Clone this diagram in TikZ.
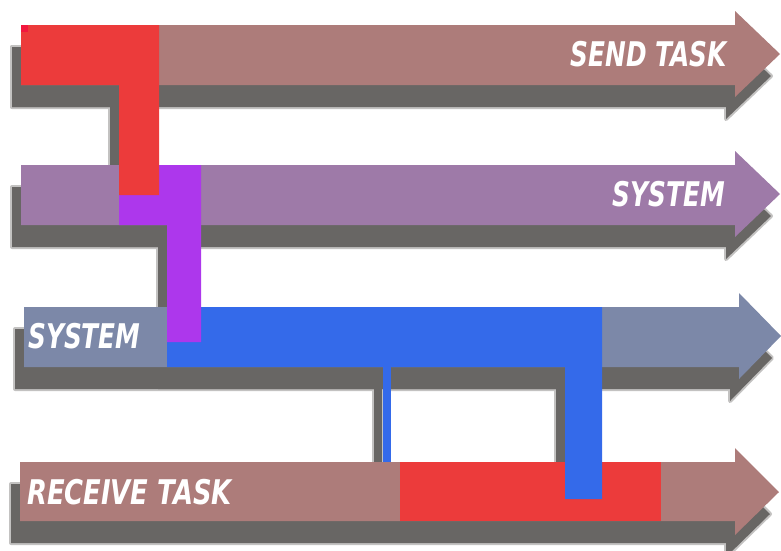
\documentclass[tikz,border=0pt]{standalone}
\usepackage{fontspec}
\newfontfamily\lblfont{DejaVu Sans Bold Oblique}[FakeStretch=0.73]
\newfontfamily\lblwidefont{DejaVu Sans Bold Oblique}[FakeStretch=0.76]
\definecolor{arrowbrown}{HTML}{AD7C7A}
\definecolor{arrowpurple}{HTML}{9E7AA8}
\definecolor{arrowslate}{HTML}{7C88A8}
\definecolor{barred}{HTML}{EC3B3B}
\definecolor{barviolet}{HTML}{AD37EC}
\definecolor{barblue}{HTML}{346AEA}
\definecolor{hotred}{HTML}{F2183E}
\definecolor{shadowgray}{HTML}{686664}
\def\ArrowA{(21,25) -- (735,25) -- (735,11) -- (780,54) -- (735,97) -- (735,85) -- (21,85) -- cycle}
\def\ArrowB{(21,165) -- (735,165) -- (735,151) -- (780,194) -- (735,237) -- (735,225) -- (21,225) -- cycle}
\def\ArrowC{(24,307) -- (739,307) -- (739,293) -- (781,336) -- (739,379) -- (739,367) -- (24,367) -- cycle}
\def\ArrowD{(20,462) -- (735,462) -- (735,448) -- (779,492) -- (735,535) -- (735,521) -- (20,521) -- cycle}
\def\RedTop{(21,25) -- (159,25) -- (159,195) -- (119,195) -- (119,85) -- (21,85) -- cycle}
\def\Violet{(119,165) -- (201,165) -- (201,342) -- (167,342) -- (167,225) -- (119,225) -- cycle}
\def\BlueBar{(167,307) -- (602,307) -- (602,499) -- (565,499) -- (565,367) -- (167,367) -- cycle}
\def\BlueLine{(383,367) rectangle (391,462)}
\def\RedBottom{(400,462) rectangle (661,521)}
\tikzset{
  shadowedge/.style={draw=shadowgray!40, line width=4pt, line join=round},
  shadowfill/.style={fill=shadowgray},
  lbl/.style={text=white, font=\lblfont\fontsize{34}{34}\selectfont, inner sep=0pt},
  lblwide/.style={lbl, font=\lblwidefont\fontsize{34}{34}\selectfont}
}
\begin{document}
\begin{tikzpicture}[x=1pt,y=-1pt]
\useasboundingbox (0,0) rectangle (781,550);
% shadows
\begin{scope}[shift={(-9,22)}]
  \path[shadowedge] \ArrowA;
  \path[shadowedge] \ArrowB;
  \path[shadowedge] \ArrowC;
  \path[shadowedge] \ArrowD;
  \path[shadowedge] \RedTop;
  \path[shadowedge] \Violet;
  \path[shadowedge] \BlueBar;
  \path[shadowedge] \BlueLine;
  \path[shadowedge] \RedBottom;
  \path[shadowfill] \ArrowA;
  \path[shadowfill] \ArrowB;
  \path[shadowfill] \ArrowC;
  \path[shadowfill] \ArrowD;
  \path[shadowfill] \RedTop;
  \path[shadowfill] \Violet;
  \path[shadowfill] \BlueBar;
  \path[shadowfill] \BlueLine;
  \path[shadowfill] \RedBottom;
\end{scope}
% arrows
\fill[arrowbrown] \ArrowA;
\fill[arrowpurple] \ArrowB;
\fill[arrowslate] \ArrowC;
\fill[arrowbrown] \ArrowD;
% overlays
\fill[barred] \RedBottom;
\fill[barblue] \BlueBar;
\fill[barblue] \BlueLine;
\fill[barviolet] \Violet;
\fill[barred] \RedTop;
\fill[hotred] (21,25) rectangle (28,32);
% labels
\node[lbl, anchor=east] (send) at (727,54) {SEND TASK};
\node[lbl, anchor=east] (sys1) at (725,194) {SYSTEM};
\node[lbl, anchor=west] (sys2) at (28,336) {SYSTEM};
\node[lblwide, anchor=west] (recv) at (27,492) {RECEIVE TASK};
\end{tikzpicture}
\end{document}
